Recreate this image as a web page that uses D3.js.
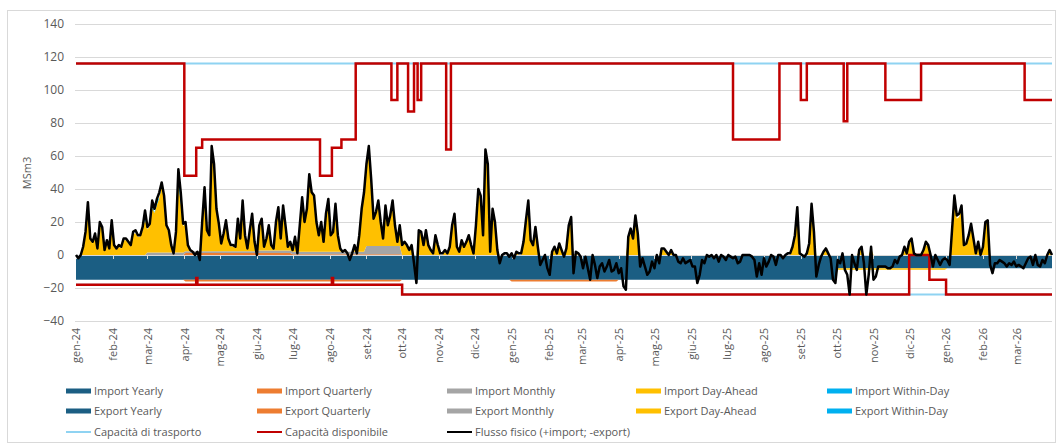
<!DOCTYPE html>
<html>
<head>
<meta charset="utf-8">
<script src="https://cdn.jsdelivr.net/npm/d3@7"></script>
<style>
  body{margin:0;background:#fff;font-family:"Open Sans",sans-serif;}
  text{fill:#595959;}
</style>
</head>
<body>
<svg id="chart" width="1062" height="448"></svg>
<script>
// ---- data ----
// daily series sampled every 2 days from 1 Jan 2024 to 31 Mar 2026
var startDate = "2024-01-01";
var stepDays = 2;

var flow = [
  0,-2,0,5,14,32,10,8,13,4,
  20,17,3,9,4,21,6,4,6,5,
  10,10,8,6,14,15,12,12,17,27,
  17,19,33,28,34,38,44,36,18,15,
  6,1,14,52,38,19,20,6,3,2,
  0,2,-3,20,41,15,12,66,55,28,
  19,7,13,21,10,6,6,5,22,10,
  33,12,4,15,25,8,0,18,22,5,
  10,18,6,4,20,29,10,30,18,5,
  8,3,11,1,18,35,20,28,49,38,
  36,20,12,20,8,25,34,12,14,31,
  12,4,2,3,1,-3,1,6,1,12,
  28,38,55,66,46,22,26,33,20,10,
  30,18,24,33,18,8,18,6,8,6,
  3,6,-5,-17,15,14,6,15,6,3,
  1,12,6,1,1,3,1,5,18,25,
  5,2,9,5,8,12,6,1,18,40,
  36,12,64,55,2,28,20,3,-5,0,
  1,1,-1,1,-2,2,1,1,8,21,
  33,9,6,17,5,-6,-3,0,-8,-12,
  2,5,1,7,3,-1,4,18,23,-11,
  2,1,-1,-8,-1,-8,-15,0,-6,-14,
  -7,-5,-10,-7,-3,-10,-9,-5,-11,-8,
  -19,-21,11,16,10,24,13,-7,-2,-7,
  -12,-10,-4,-8,0,-5,4,4,2,0,
  3,0,0,-4,-5,-2,-5,-4,-3,-7,
  -7,-17,-12,-3,-5,0,-1,0,-2,0,
  -4,0,-1,-3,0,-1,-2,-1,-5,-4,
  0,0,0,0,-1,-3,-13,-5,-12,-2,
  -7,-4,0,-1,-6,0,0,-2,0,1,
  1,5,12,29,1,0,-1,1,7,31,
  14,-13,-6,-1,2,4,1,-2,-15,-17,
  -3,-5,1,-9,-12,-24,0,-5,-9,3,
  5,-5,-24,-12,5,-15,-13,-7,-7,-7,
  -7,-8,-8,-7,-3,-5,-1,0,5,1,
  8,10,1,0,0,0,3,8,6,0,
  -7,0,-3,-6,-3,-2,-3,-6,15,36,
  24,25,30,6,7,12,19,10,1,8,
  0,5,20,21,-6,-11,-5,-5,-3,-4,
  -5,-7,-5,-6,-4,-7,-6,-7,-8,-5,
  -2,-1,-6,0,-6,-7,-3,-5,0,3,0
];

var importDayAhead = [
  0,0,0,4,13,30,9,7,12,3,
  19,16,2,8,3,20,5,3,5,4,
  9,9,7,5,13,13,11,11,15,22,
  14,16,27,24,29,33,40,33,15,12,
  4,0,11,42,30,16,17,3,1,0,
  0,0,0,17,38,12,9,62,52,25,
  16,4,10,18,7,3,3,2,19,7,
  30,9,1,12,22,5,0,15,19,2,
  7,15,3,1,17,26,7,27,15,2,
  5,1,9,0,16,32,18,26,46,36,
  34,18,10,18,6,23,32,10,12,29,
  10,2,0,1,0,0,0,4,0,10,
  26,36,49,60,40,16,20,27,14,4,
  24,12,18,27,12,2,12,5,7,5,
  2,5,0,0,14,13,5,14,5,2,
  0,11,5,0,0,2,0,4,17,24,
  4,1,8,4,7,11,5,0,17,38,
  34,11,60,52,1,26,18,2,0,0,
  0,0,0,0,0,1,0,0,7,20,
  31,8,5,16,4,0,0,0,0,0,
  1,4,0,6,2,0,3,17,21,0,
  1,0,0,0,0,0,0,0,0,0,
  0,0,0,0,0,0,0,0,0,0,
  0,0,10,15,9,22,12,0,0,0,
  0,0,0,0,0,0,3,3,1,0,
  2,0,0,0,0,0,0,0,0,0,
  0,0,0,0,0,0,0,0,0,0,
  0,0,0,0,0,0,0,0,0,0,
  0,0,0,0,0,0,0,0,0,0,
  0,0,0,0,0,0,0,0,0,0,
  0,4,11,27,0,0,0,0,6,29,
  13,0,0,0,1,3,0,0,0,0,
  0,0,0,0,0,0,0,0,0,2,
  4,0,0,0,4,0,0,0,0,0,
  0,0,0,0,0,0,0,0,4,0,
  7,9,0,0,0,0,2,6,5,0,
  0,0,0,0,0,0,0,0,14,34,
  22,23,28,5,6,11,18,9,0,7,
  0,4,19,20,0,0,0,0,0,0,
  0,0,0,0,0,0,0,0,0,0,
  0,0,0,0,0,0,0,0,0,2,0
];

// sparse within-day nominations (date, MSm3)
var importWithinDay = [
  ["2024-02-28",4],["2024-03-05",4],["2024-03-09",3],["2024-03-13",2],
  ["2024-03-27",8],["2024-03-29",6]
];

// monthly products, gen-24 .. mar-26 (27 months)
var importYearly    = [0,0,0,0,0,0,0,0,0,0,0,0, 0,0,0,0,0,0,0,0,0,0,0,0, 0,0,0];
var importQuarterly = [0,0,0,1.2,1.2,1.2,0.5,0.5,0.5,0,0,0, 0,0,0,0,0,0,0,0,0,0,0,0, 0,0,0];
var importMonthly   = [0,0,1.5,1,1,1.5,1.5,1.5,5,0,0,0, 0,0,0,0,0,0,0,0,0,0,0,0, 0,0,0];
var exportYearly    = [-15,-15,-15,-15,-15,-15,-15,-15,-15,-15,-15,-15,
                       -15,-15,-15,-15,-15,-15,-15,-15,-15,-8,-8,-8, -8,-8,-8];
var exportQuarterly = [0,0,0,-1,-1,-1,-1,-1,-1,0,0,0, -1,-1,-1,0,0,0,0,0,0,0,0,0, 0,0,0];
var exportMonthly   = [0,0,0,0,0,0,0,0,0,0,0,0, 0,0,0,0,0,0,0,0,0,0,0,0, 0,0,0];
var exportDayAhead  = [0,0,0,0,0,0,0,0,0,0,0,0, 0,0,0,0,0,0,0,0,0,-1,-1,-1, 0,0,0];
var exportWithinDay = [0,0,0,0,0,0,0,0,0,0,0,0, 0,0,0,0,0,0,0,0,0,0,0,0, 0,0,0];

// capacities as step changes (date from which the value holds)
var capTrasportoImport = [["2024-01-01",116]];
var capTrasportoExport = [["2024-01-01",-18],["2024-10-01",-24]];
var capDispImport = [
  ["2024-01-01",116],["2024-04-01",48],["2024-04-11",65],["2024-04-16",70],
  ["2024-07-24",48],["2024-08-03",65],["2024-08-11",70],["2024-08-23",116],
  ["2024-09-22",94],["2024-09-27",116],["2024-10-06",87],["2024-10-11",116],
  ["2024-10-14",94],["2024-10-17",116],["2024-11-07",64],["2024-11-11",116],
  ["2025-07-06",70],["2025-08-14",116],["2025-09-01",94],["2025-09-06",116],
  ["2025-10-07",81],["2025-10-10",116],["2025-11-11",94],["2025-12-11",116],
  ["2026-03-08",94]
];
var capDispExport = [
  ["2024-01-01",-18],["2024-04-11",-14],["2024-04-12",-18],["2024-08-03",-14],
  ["2024-08-04",-18],["2024-10-01",-24],["2025-12-01",0],["2025-12-18",-15],
  ["2026-01-01",-24]
];

var monthNames = ["gen","feb","mar","apr","mag","giu","lug","ago","set","ott","nov","dic"];
var yTicks = [-40,-20,0,20,40,60,80,100,120,140];

// ---- styles ----
var colors = {
  yearly:"#1b5e83", quarterly:"#ed7d31", monthly:"#a5a5a5",
  dayAhead:"#ffc000", withinDay:"#00b0f0",
  trasporto:"#8fd3f2", disponibile:"#c00000", flusso:"#000000"
};

(function(){
var svg = d3.select("#chart");
var plotLeft = 76, plotRight = 1052, plotTop = 24, plotBottom = 321;

svg.append("rect").attr("x",7.5).attr("y",10.5).attr("width",1048).attr("height",432)
  .attr("fill","#fff").attr("stroke","#d9d9d9");

var parse = d3.timeParse("%Y-%m-%d");
var t0 = parse(startDate);
var tEnd = d3.timeDay.offset(t0, (flow.length-1)*stepDays);

var x = d3.scaleTime().domain([t0, tEnd]).range([plotLeft, plotRight]);
var y = d3.scaleLinear().domain([-40,140]).range([plotBottom, plotTop]);

// within-day lookup
var wdMap = {};
importWithinDay.forEach(function(p){ wdMap[p[0]] = p[1]; });
var fmt = d3.timeFormat("%Y-%m-%d");

var rows = flow.map(function(v,i){
  var date = d3.timeDay.offset(t0, i*stepDays);
  var m = (date.getFullYear()-2024)*12 + date.getMonth();
  return {
    date:date, flow:v,
    importYearly:importYearly[m], importQuarterly:importQuarterly[m],
    importMonthly:importMonthly[m], importDayAhead:importDayAhead[i],
    importWithinDay:wdMap[fmt(date)] || 0,
    exportYearly:exportYearly[m], exportQuarterly:exportQuarterly[m],
    exportMonthly:exportMonthly[m], exportDayAhead:exportDayAhead[m],
    exportWithinDay:exportWithinDay[m]
  };
});

var importKeys = ["importYearly","importQuarterly","importMonthly","importDayAhead","importWithinDay"];
var exportKeys = ["exportYearly","exportQuarterly","exportMonthly","exportDayAhead","exportWithinDay"];
var keyColor = {
  importYearly:colors.yearly, importQuarterly:colors.quarterly, importMonthly:colors.monthly,
  importDayAhead:colors.dayAhead, importWithinDay:colors.withinDay,
  exportYearly:colors.yearly, exportQuarterly:colors.quarterly, exportMonthly:colors.monthly,
  exportDayAhead:colors.dayAhead, exportWithinDay:colors.withinDay
};

// gridlines
svg.append("g").selectAll("line").data(yTicks).enter().append("line")
  .attr("x1",plotLeft-1).attr("x2",plotRight)
  .attr("y1",function(d){return Math.round(y(d))+0.5;}).attr("y2",function(d){return Math.round(y(d))+0.5;})
  .attr("stroke","#d9d9d9").attr("stroke-width",1);

// stacked areas
var area = d3.area()
  .x(function(d){return x(d.data.date);})
  .y0(function(d){return y(d[0]);})
  .y1(function(d){return y(d[1]);});

var stackImp = d3.stack().keys(importKeys)(rows);
var stackExp = d3.stack().keys(exportKeys)(rows);
svg.append("g").selectAll("path").data(stackImp.concat(stackExp)).enter().append("path")
  .attr("d",area)
  .attr("fill",function(s){return keyColor[s.key];});

// x axis ticks on the zero line
var monthStarts = d3.timeMonth.range(t0, tEnd);
svg.append("line").attr("x1",plotLeft).attr("x2",plotRight)
  .attr("y1",Math.round(y(0))+0.5).attr("y2",Math.round(y(0))+0.5)
  .attr("stroke","#d9d9d9");
svg.append("g").selectAll("line").data(monthStarts).enter().append("line")
  .attr("x1",function(d){return Math.round(x(d))+0.5;}).attr("x2",function(d){return Math.round(x(d))+0.5;})
  .attr("y1",y(0)).attr("y2",y(0)+4)
  .attr("stroke","#d9d9d9");

// capacity lines
var stepLine = d3.line().curve(d3.curveStepAfter)
  .x(function(d){return x(d.date);}).y(function(d){return y(d.value);});
function steps(arr){
  var pts = arr.map(function(p){return {date:parse(p[0]), value:p[1]};});
  pts.push({date:tEnd, value:arr[arr.length-1][1]});
  return pts;
}
[capTrasportoImport, capTrasportoExport].forEach(function(a){
  svg.append("path").attr("d",stepLine(steps(a)))
    .attr("fill","none").attr("stroke",colors.trasporto).attr("stroke-width",2);
});
[capDispImport, capDispExport].forEach(function(a){
  svg.append("path").attr("d",stepLine(steps(a)))
    .attr("fill","none").attr("stroke",colors.disponibile).attr("stroke-width",2.5);
});

// physical flow
var flowLine = d3.line().x(function(d){return x(d.date);}).y(function(d){return y(d.flow);});
svg.append("path").attr("d",flowLine(rows))
  .attr("fill","none").attr("stroke",colors.flusso).attr("stroke-width",2.5)
  .attr("stroke-linejoin","round");

// y axis
var yAxis = d3.axisLeft(y).tickValues(yTicks).tickSize(0).tickPadding(0);
var gy = svg.append("g").attr("transform","translate(64,0)").call(yAxis);
gy.select(".domain").remove();
gy.selectAll("text").style("font-size","12px").style("font-family","'Open Sans',sans-serif").attr("fill","#595959");

svg.append("text").attr("transform","translate(31,173) rotate(-90)")
  .attr("text-anchor","middle").style("font-size","11px").text("MSm3");

// x axis labels (rotated)
var xAxis = d3.axisBottom(x).tickValues(monthStarts).tickSize(0)
  .tickFormat(function(d){return monthNames[d.getMonth()] + "-" + String(d.getFullYear()).slice(2);});
var gx = svg.append("g").attr("transform","translate(0,325)").call(xAxis);
gx.select(".domain").remove();
gx.selectAll("text")
  .attr("transform","rotate(-90)").attr("x",-3).attr("y",0).attr("dy","0.35em")
  .style("text-anchor","end").style("font-size","11px")
  .style("font-family","'Open Sans',sans-serif").attr("fill","#595959");

// legend
var legend = [
  {label:"Import Yearly", c:colors.yearly, t:"bar", col:0, row:0},
  {label:"Import Quarterly", c:colors.quarterly, t:"bar", col:1, row:0},
  {label:"Import Monthly", c:colors.monthly, t:"bar", col:2, row:0},
  {label:"Import Day-Ahead", c:colors.dayAhead, t:"bar", col:3, row:0},
  {label:"Import Within-Day", c:colors.withinDay, t:"bar", col:4, row:0},
  {label:"Export Yearly", c:colors.yearly, t:"bar", col:0, row:1},
  {label:"Export Quarterly", c:colors.quarterly, t:"bar", col:1, row:1},
  {label:"Export Monthly", c:colors.monthly, t:"bar", col:2, row:1},
  {label:"Export Day-Ahead", c:colors.dayAhead, t:"bar", col:3, row:1},
  {label:"Export Within-Day", c:colors.withinDay, t:"bar", col:4, row:1},
  {label:"Capacità di trasporto", c:colors.trasporto, t:"line", col:0, row:2},
  {label:"Capacità disponibile", c:colors.disponibile, t:"line", col:1, row:2},
  {label:"Flusso fisico (+import; -export)", c:colors.flusso, t:"line", col:2, row:2}
];
var colX = [66, 257, 447, 636, 827];
var rowY = [391, 411, 432];
var lg = svg.append("g").selectAll("g").data(legend).enter().append("g")
  .attr("transform",function(d){return "translate(" + colX[d.col] + "," + rowY[d.row] + ")";});
lg.append("rect")
  .attr("x",0).attr("width",25)
  .attr("y",function(d){return d.t === "bar" ? -2.5 : -1;})
  .attr("height",function(d){return d.t === "bar" ? 5 : 2;})
  .attr("fill",function(d){return d.c;});
lg.append("text").attr("x",28).attr("dy","0.35em")
  .style("font-size","11px").text(function(d){return d.label;});
})();
</script>
</body>
</html>
